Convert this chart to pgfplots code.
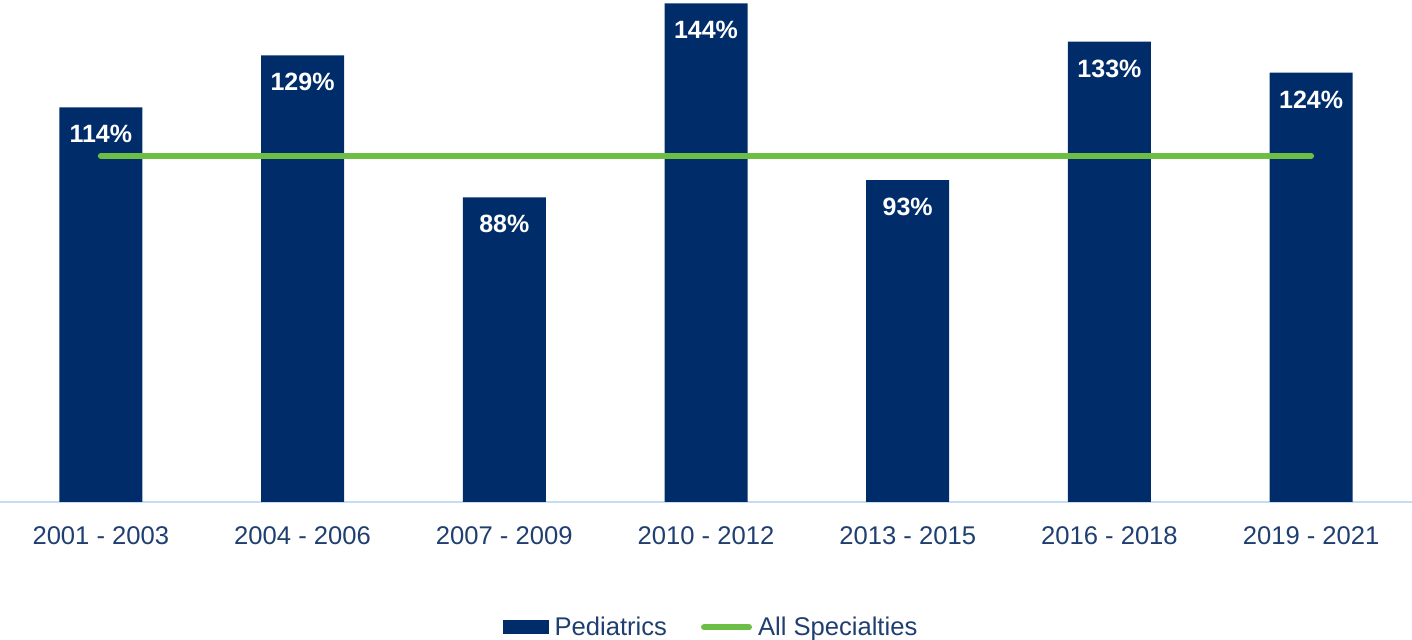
\documentclass[border=0pt]{standalone}
\usepackage{pgfplots}
\pgfplotsset{compat=1.18}
\usepackage{fontspec}
\setmainfont{Liberation Sans}
\definecolor{navy}{HTML}{002D6A}
\definecolor{grn}{HTML}{6CBE45}
\definecolor{txt}{HTML}{1F3F70}
\definecolor{axl}{HTML}{C5DCF5}
\begin{document}
\begin{tikzpicture}
\path[use as bounding box] (0,0) rectangle (706pt,320pt);
\begin{axis}[
  at={(0pt,69pt)}, anchor=south west,
  scale only axis, width=706pt, height=251pt,
  xmin=-0.5, xmax=6.5, ymin=0, ymax=145,
  axis y line=none, axis x line*=bottom,
  axis line style={-, draw=axl, line width=0.8pt},
  xtick={0,...,6},
  xticklabels={2001 - 2003,2004 - 2006,2007 - 2009,2010 - 2012,2013 - 2015,2016 - 2018,2019 - 2021},
  major tick length=0pt,
  /pgf/number format/assume math mode=true,
  xticklabel style={font=\fontsize{12.8}{15}\selectfont, text=txt, yshift=-9pt},
  legend columns=2,
  legend style={at={(0.5,-0.25)}, anchor=center, xshift=3pt, draw=none, fill=none,
    font=\fontsize{12.8}{15}\selectfont, text=txt,
    /tikz/every even column/.append style={column sep=15pt},
    /tikz/every odd column/.append style={column sep=1pt}},
  clip=false,
]
\addplot[ybar, bar width=41.5pt, fill=navy, draw=none,
  nodes near coords={\pgfmathprintnumber{\pgfplotspointmeta}\%},
  nodes near coords style={anchor=north, yshift=-5.5pt, text=white, font=\bfseries\fontsize{12.5}{15}\selectfont},
  legend image code/.code={\fill[navy] (0pt,-3.5pt) rectangle (23pt,3.5pt);}]
  coordinates {(0,114) (1,129) (2,88) (3,144) (4,93) (5,133) (6,124)};
\addlegendentry{Pediatrics}
\addplot[grn, line width=3pt, line cap=round, no marks,
  legend image code/.code={\draw[grn, line width=3pt, line cap=round] (1.5pt,0) -- (24pt,0);}]
  coordinates {(0,100) (1,100) (2,100) (3,100) (4,100) (5,100) (6,100)};
\addlegendentry{All Specialties}
\end{axis}
\end{tikzpicture}
\end{document}
